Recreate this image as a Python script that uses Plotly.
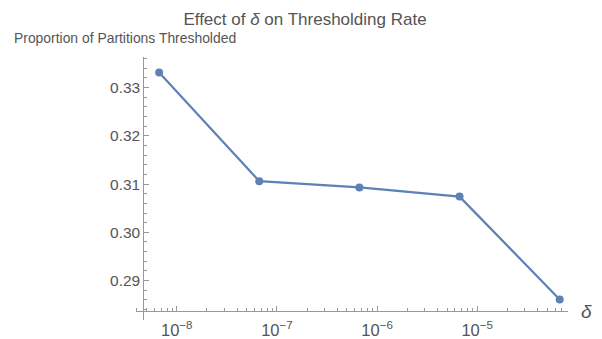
import plotly.graph_objects as go

# Data
delta = [6.67e-9, 6.67e-8, 6.67e-7, 6.67e-6, 6.67e-5]
proportion = [0.3331, 0.3106, 0.3093, 0.3074, 0.2861]

x_tick_vals = [1e-8, 1e-7, 1e-6, 1e-5]
x_tick_text = ["10<sup>\u22128</sup>", "10<sup>\u22127</sup>", "10<sup>\u22126</sup>", "10<sup>\u22125</sup>"]
x_minor_vals = [m * 10.0 ** e for e in range(-9, -4) for m in range(2, 10)]

W, H = 602, 339
AX = "#999999"
TXT = "#555555"
LINE = "rgb(94,129,181)"
FONT = "Liberation Sans"

fig = go.Figure()
fig.add_trace(go.Scatter(
    x=delta, y=proportion, mode="lines+markers",
    line=dict(color=LINE, width=2.2),
    marker=dict(color=LINE, size=8),
    cliponaxis=False, showlegend=False,
))

fig.update_layout(
    width=W, height=H,
    margin=dict(l=0, r=0, t=0, b=0),
    paper_bgcolor="white", plot_bgcolor="white",
    font=dict(family=FONT, color=TXT, size=15.5),
    title=dict(text="Effect of <i>\u03b4</i> on Thresholding Rate",
               x=305 / W, xanchor="center", y=1 - 19 / H, yanchor="middle",
               font=dict(size=17, color=TXT, family=FONT)),
    xaxis=dict(
        type="log", range=[-8.412, -4.093],
        domain=[135.5 / W, 568 / W],
        anchor="free", position=1 - 313.3 / H,
        showline=True, linecolor=AX, linewidth=1,
        ticks="inside", ticklen=5, tickcolor=AX, tickwidth=1,
        tickvals=x_tick_vals, ticktext=x_tick_text,
        tickfont=dict(size=16.5, color=TXT),
        ticklabelstandoff=4,
        showgrid=False, zeroline=False,
        minor=dict(tickvals=x_minor_vals, ticks="inside", ticklen=3, tickcolor=AX, showgrid=False),
    ),
    yaxis=dict(
        range=[0.28181, 0.3364],
        domain=[1 - 322 / H, 1 - 57 / H],
        anchor="free", position=143.3 / W,
        showline=True, linecolor=AX, linewidth=1,
        ticks="inside", ticklen=5, tickcolor=AX, tickwidth=1,
        tick0=0.29, dtick=0.01, tickformat=".2f",
        tickfont=dict(size=15.5, color=TXT),
        showgrid=False, zeroline=False,
        minor=dict(dtick=0.002, tick0=0.29, ticks="inside", ticklen=3, tickcolor=AX, showgrid=False),
    ),
    annotations=[
        dict(text="Proportion of Partitions Thresholded", xref="paper", yref="paper",
             x=12 / W, y=1 - 38 / H, xanchor="left", yanchor="middle", showarrow=False,
             font=dict(size=13.9, color=TXT, family=FONT)),
        dict(text="<i>\u03b4</i>", xref="paper", yref="paper",
             x=586 / W, y=1 - 313 / H, xanchor="center", yanchor="middle", showarrow=False,
             font=dict(size=19, color=TXT, family=FONT)),
    ],
)

fig.write_html("out.html", config={"displayModeBar": False},
               post_script="document.body.style.margin='0';document.body.style.overflow='hidden';")
